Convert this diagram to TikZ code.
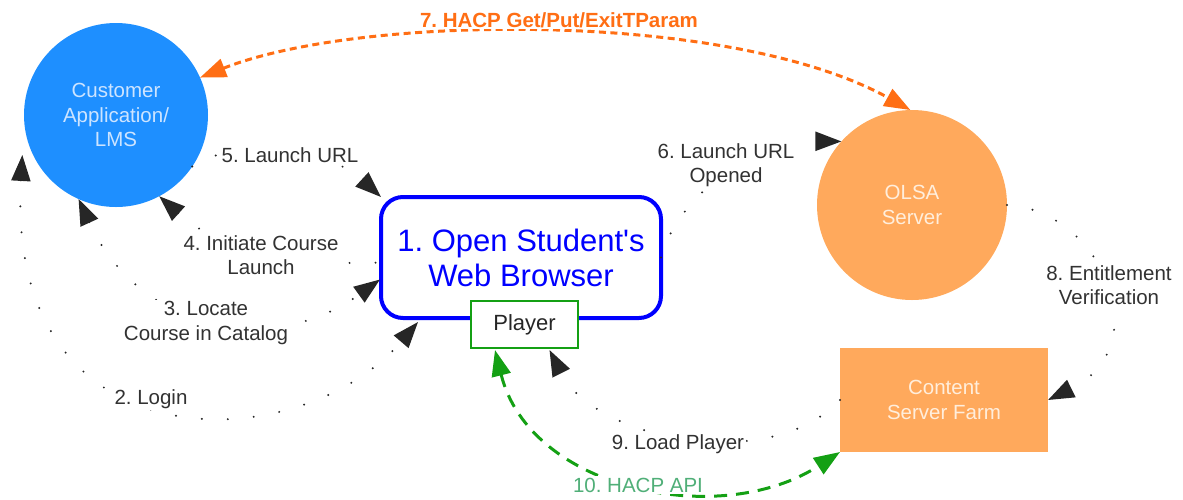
\documentclass[tikz,border=0pt]{standalone}
\usepackage{fontspec}
\setmainfont{Liberation Sans}
\usetikzlibrary{arrows.meta,calc}

\definecolor{lmsblue}{RGB}{30,143,255}
\definecolor{olsaorange}{RGB}{255,169,92}
\definecolor{hacporange}{RGB}{255,110,20}
\definecolor{apigreen}{RGB}{20,160,20}
\definecolor{apitext}{RGB}{80,175,120}
\definecolor{browserblue}{RGB}{0,0,255}
\definecolor{labelgray}{RGB}{50,50,50}
\definecolor{lmstext}{RGB}{205,228,255}
\definecolor{olsatext}{RGB}{255,238,220}

\newcommand{\labelfont}{\fontsize{20.5}{24.5}\selectfont}
\frenchspacing

\begin{document}
\begin{tikzpicture}[x=1pt,y=-1pt,
  every node/.style={inner sep=0pt,outer sep=0pt},
  >={Triangle[length=26pt,width=19pt]},
  lbl/.style={font=\labelfont,text=labelgray,align=center,fill=white,inner sep=1.5pt},
  dotline/.style={draw=black!85,line width=2.2pt,line cap=round,dash pattern=on 0pt off 26pt},
  hacpline/.style={draw=hacporange,line width=3pt,dash pattern=on 7pt off 4.5pt},
  apiline/.style={draw=apigreen,line width=3pt,dash pattern=on 13pt off 9pt},
  server/.style={fill=olsaorange,text=olsatext,align=center,font=\labelfont}]

\useasboundingbox (0,0) rectangle (1183,499);

% main components
\node[circle,fill=lmsblue,minimum size=184pt,text=lmstext,align=center,font=\labelfont]
  (lms) at (116,115) {Customer\\Application/\\LMS};
\node[server,circle,minimum size=190pt] (olsa) at (912,205) {OLSA\\Server};
\node[server,rectangle,minimum width=208pt,minimum height=104pt] (content) at (944,400) {Content\\Server Farm};
\node[draw=browserblue,line width=4pt,rounded corners=22pt,minimum width=280pt,minimum height=121pt,
  text=browserblue,align=center,font=\fontsize{31}{35}\selectfont]
  (browser) at (521,257.5) {1. Open Student\textquotesingle s\\Web Browser};
\node[draw=apigreen,line width=1.5pt,fill=white,minimum width=107pt,minimum height=47pt,
  text=black!85,font=\fontsize{22}{26}\selectfont] (player) at (524.5,324.5) {Player};

% dotted message flows
\draw[dotline,<->] ($(lms.203)+(-9,4)$) .. controls (5,470) and (300,460) .. ($(browser.south west)+(37,4)$);
\draw[dotline,<->] (lms.246) .. controls (137,327) and (267,361) .. ($(browser.west)+(-1,22)$);
\draw[dotline,<-] (lms.298) .. controls (230,260) and (330,265) .. ($(browser.west)+(-1,5)$);
\draw[dotline,->] (lms.326) .. controls (240,135) and (330,150) .. (browser.north west);
\draw[dotline,->] (browser.east) .. controls (680,190) and (760,141) .. (olsa.138);
\draw[dotline,->] (olsa.east) .. controls (1100,210) and (1160,345) .. (content.east);
\draw[dotline,->] (content.west) .. controls (770,475) and (595,440) .. ($(player.south)+(25,2)$);

% HACP exchanges
\draw[hacpline,<->,hacporange] (lms.24) .. controls (360,14) and (730,10) .. (olsa.91);
\draw[apiline,<->,apigreen] ($(player.south)+(-29.5,2)$) .. controls (530,490) and (720,530) .. (content.south west);

% step labels
\node[lbl] (l2) at (151,399) {2. Login};
\node[lbl] (l3) at (206,323) {3. Locate\\Course in Catalog};
\node[lbl] (l4) at (261,255) {4. Initiate Course\\Launch};
\node[lbl] (l5) at (290,155) {5. Launch URL};
\node[lbl] (l6) at (726,165) {6. Launch URL\\Opened};
\node[lbl,text=hacporange,font=\labelfont\bfseries] (l7) at (559,20) {7. HACP Get/Put/ExitTParam};
\node[lbl] (l8) at (1109,285) {8. Entitlement\\Verification};
\node[lbl] (l9) at (678,444) {9. Load Player};
\node[lbl,text=apitext] (l10) at (638,485) {10. HACP API};

\end{tikzpicture}
\end{document}
